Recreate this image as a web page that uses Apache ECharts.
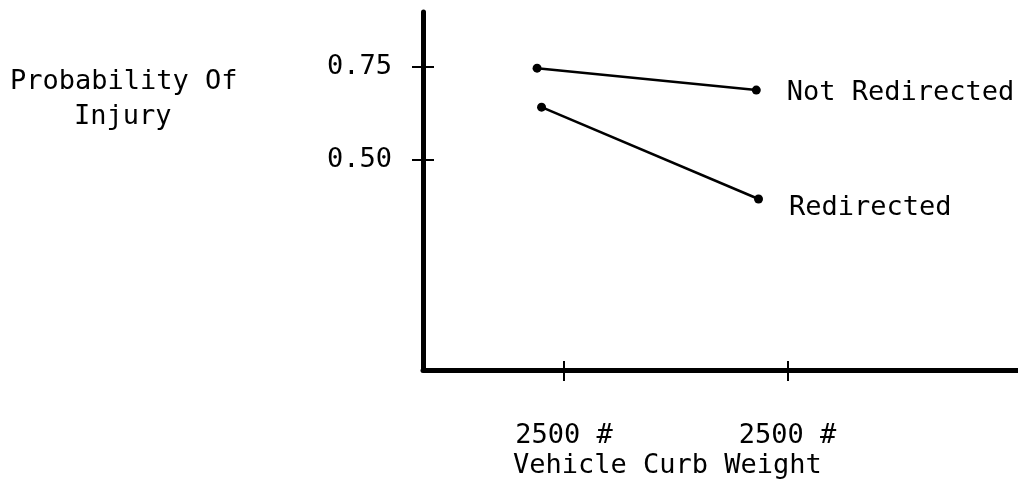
<!DOCTYPE html>
<html>
<head>
    <meta charset="utf-8"/>
    <title>Probability Of Injury</title>
    <script src="https://cdn.jsdelivr.net/npm/echarts@6/dist/echarts.min.js"></script>
    <style>
        html, body { margin: 0; padding: 0; background: #fff; }
        #chart { width: 1018px; height: 495px; }
    </style>
</head>
<body>
<div id="chart"></div>
<script type="text/javascript">
    // positions along the weight axis (tick 1 and tick 2 are the two "2500 #" marks)
    var weightTicks = [1, 2];
    var weightLabels = ['2500 #', '2500 #'];
    var probTicks = [0.5, 0.75];
    var probLabels = ['0.50', '0.75'];

    var notRedirectedX = [0.88, 1.86];
    var notRedirectedY = [0.747, 0.688];
    var redirectedX = [0.90, 1.87];
    var redirectedY = [0.642, 0.395];

    var font = 'DejaVu Sans Mono';

    var makeData = function (xs, ys, name, offsetY) {
        return xs.map(function (x, i) {
            var item = { value: [x, ys[i]] };
            if (i === xs.length - 1) {
                item.label = {
                    show: true,
                    formatter: name,
                    position: 'right',
                    distance: 26,
                    offset: [0, offsetY],
                    fontFamily: font,
                    fontSize: 27,
                    color: '#000'
                };
            }
            return item;
        });
    };

    var chart = echarts.init(document.getElementById('chart'));
    var labelIndex = function (list, v) {
        return list.indexOf(v);
    };

    var option = {
        animation: false,
        grid: { left: 423, right: 0, top: 12, bottom: 125 },
        xAxis: [{
            type: 'value',
            min: 0.37,
            max: 3.03,
            splitLine: { show: false },
            axisLine: { onZero: false, lineStyle: { color: '#000', width: 5 } },
            axisTick: { show: true, customValues: weightTicks, length: 11, lineStyle: { color: '#000', width: 2 } },
            axisLabel: {
                customValues: weightTicks,
                margin: 52,
                fontFamily: font,
                fontSize: 27,
                color: '#000',
                formatter: function (v) { return weightLabels[labelIndex(weightTicks, v)]; }
            }
        }, {
            type: 'value',
            position: 'bottom',
            min: 0.37,
            max: 3.03,
            splitLine: { show: false },
            axisLine: { show: false, onZero: false },
            axisTick: { show: true, inside: true, customValues: weightTicks, length: 9, lineStyle: { color: '#000', width: 2 } },
            axisLabel: { show: false }
        }],
        yAxis: [{
            type: 'value',
            min: -0.065,
            max: 0.898,
            splitLine: { show: false },
            axisLine: { show: true, onZero: false, lineStyle: { color: '#000', width: 5 } },
            axisTick: { show: true, customValues: probTicks, length: 11, lineStyle: { color: '#000', width: 2 } },
            axisLabel: {
                customValues: probTicks,
                margin: 31,
                fontFamily: font,
                fontSize: 27,
                color: '#000',
                formatter: function (v) { return probLabels[labelIndex(probTicks, v)]; }
            }
        }, {
            type: 'value',
            position: 'left',
            min: -0.065,
            max: 0.898,
            splitLine: { show: false },
            axisLine: { show: false, onZero: false },
            axisTick: { show: true, inside: true, customValues: probTicks, length: 11, lineStyle: { color: '#000', width: 2 } },
            axisLabel: { show: false }
        }],
        graphic: [{
            type: 'text',
            left: 10,
            top: 68,
            style: { text: 'Probability Of', font: '27px "DejaVu Sans Mono"', fill: '#000' }
        }, {
            type: 'text',
            left: 74,
            top: 103,
            style: { text: 'Injury', font: '27px "DejaVu Sans Mono"', fill: '#000' }
        }, {
            type: 'text',
            left: 513,
            top: 452,
            style: { text: 'Vehicle Curb Weight', font: '27px "DejaVu Sans Mono"', fill: '#000' }
        }],
        series: [{
            name: 'Not Redirected',
            type: 'line',
            symbol: 'circle',
            symbolSize: 9,
            itemStyle: { color: '#000' },
            lineStyle: { color: '#000', width: 2.5 },
            data: makeData(notRedirectedX, notRedirectedY, 'Not Redirected', 3)
        }, {
            name: 'Redirected',
            type: 'line',
            symbol: 'circle',
            symbolSize: 9,
            itemStyle: { color: '#000' },
            lineStyle: { color: '#000', width: 2.5 },
            data: makeData(redirectedX, redirectedY, 'Redirected', 9)
        }]
    };
    chart.setOption(option);
</script>
</body>
</html>
